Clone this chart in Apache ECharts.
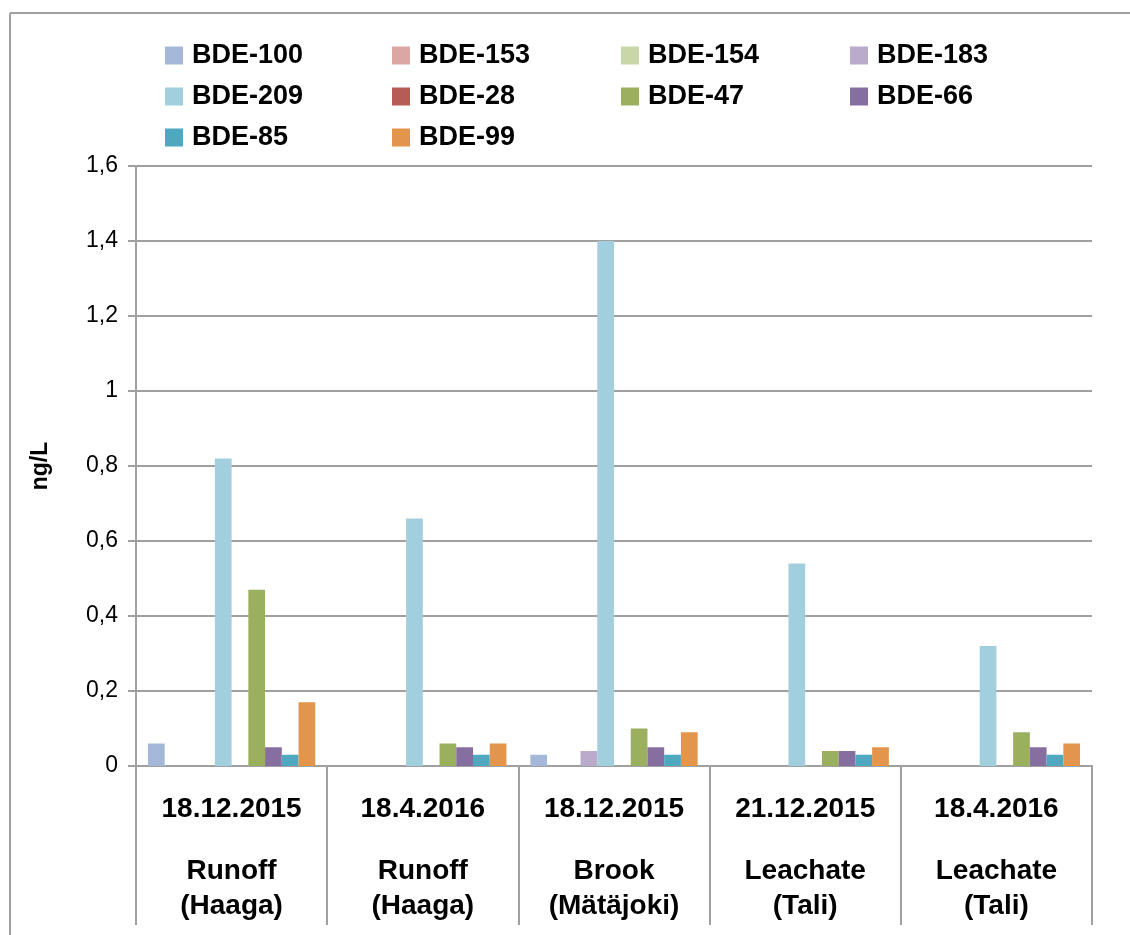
<!DOCTYPE html>
<html>
<head>
<meta charset="utf-8">
<script src="https://cdn.jsdelivr.net/npm/echarts@6/dist/echarts.min.js"></script>
<style>
html,body{margin:0;padding:0;background:#fff;}
#chart{width:1130px;height:935px;}
</style>
</head>
<body>
<div id="chart"></div>
<script>
// ---- data ----
var dates = ['18.12.2015', '18.4.2016', '18.12.2015', '21.12.2015', '18.4.2016'];
var siteNames = ['Runoff', 'Runoff', 'Brook', 'Leachate', 'Leachate'];
var sitePlaces = ['(Haaga)', '(Haaga)', '(Mätäjoki)', '(Tali)', '(Tali)'];
var yTicks = [0, 0.2, 0.4, 0.6, 0.8, 1, 1.2, 1.4, 1.6];

var seriesNames = ['BDE-100', 'BDE-153', 'BDE-154', 'BDE-183', 'BDE-209', 'BDE-28', 'BDE-47', 'BDE-66', 'BDE-85', 'BDE-99'];
var bde100 = [0.06, 0, 0.03, 0, 0];
var bde153 = [0, 0, 0, 0, 0];
var bde154 = [0, 0, 0, 0, 0];
var bde183 = [0, 0, 0.04, 0, 0];
var bde209 = [0.82, 0.66, 1.4, 0.54, 0.32];
var bde28  = [0, 0, 0, 0, 0];
var bde47  = [0.47, 0.06, 0.10, 0.04, 0.09];
var bde66  = [0.05, 0.05, 0.05, 0.04, 0.05];
var bde85  = [0.03, 0.03, 0.03, 0.03, 0.03];
var bde99  = [0.17, 0.06, 0.09, 0.05, 0.06];

var seriesValues = [bde100, bde153, bde154, bde183, bde209, bde28, bde47, bde66, bde85, bde99];
var colors = ['#A5B8DA', '#DBA6A4', '#C8D7A8', '#BAABCB', '#A2CFDE', '#B85A55', '#9BB05F', '#876EA0', '#4EA8BF', '#E3954B'];

// ---- build ----
var categories = dates.map(function (d, i) { return d + '\n' + siteNames[i] + '\n' + sitePlaces[i]; });
var FONT = '"Liberation Sans", Arial, sans-serif';
var GREY = '#A0A0A0';

var series = seriesNames.map(function (n, i) {
  return {
    name: n,
    type: 'bar',
    data: seriesValues[i],
    barGap: '0%',
    barCategoryGap: '12.5%',
    itemStyle: { color: colors[i] },
    emphasis: { disabled: true }
  };
});

var legendCols = [
  { left: 165, data: ['BDE-100', 'BDE-209', 'BDE-85'] },
  { left: 392, data: ['BDE-153', 'BDE-28', 'BDE-99'] },
  { left: 621, data: ['BDE-154', 'BDE-47'] },
  { left: 850, data: ['BDE-183', 'BDE-66'] }
];
var legends = legendCols.map(function (c) {
  return {
    orient: 'vertical',
    left: c.left,
    top: 42,
    padding: 0,
    itemWidth: 18,
    itemHeight: 18,
    itemGap: 14,
    icon: 'rect',
    selectedMode: false,
    data: c.data,
    textStyle: { fontFamily: FONT, fontWeight: 'bold', fontSize: 27, color: '#000', lineHeight: 18, padding: [4, 0, 0, 4] }
  };
});

var chart = echarts.init(document.getElementById('chart'), null, { renderer: 'canvas' });
chart.setOption({
  animation: false,
  backgroundColor: '#fff',
  color: colors,
  legend: legends,
  grid: { left: 136, right: 38, top: 166, bottom: 169, containLabel: false },
  graphic: [
    { type: 'line', shape: { x1: 10, y1: 13, x2: 1130, y2: 13 }, style: { stroke: GREY, lineWidth: 2 } },
    { type: 'line', shape: { x1: 10, y1: 13, x2: 10, y2: 935 }, style: { stroke: GREY, lineWidth: 2 } }
  ],
  xAxis: {
    type: 'category',
    data: categories,
    boundaryGap: true,
    axisLine: { show: true, lineStyle: { color: GREY, width: 2 } },
    axisTick: { show: true, interval: 0, length: 159, lineStyle: { color: GREY, width: 2 } },
    axisLabel: {
      interval: 0,
      margin: 9,
      formatter: function (v) {
        var p = v.split('\n');
        return '{d|' + p[0] + '}\n{e| }\n{n|' + p[1] + '}\n{n|' + p[2] + '}';
      },
      rich: {
        d: { fontFamily: FONT, fontWeight: 'bold', fontSize: 28, color: '#000', lineHeight: 68 },
        e: { fontSize: 8, lineHeight: 11 },
        n: { fontFamily: FONT, fontWeight: 'bold', fontSize: 28, color: '#000', lineHeight: 35 }
      }
    }
  },
  yAxis: {
    type: 'value',
    min: 0,
    max: 1.6,
    interval: 0.2,
    name: 'ng/L',
    nameLocation: 'middle',
    nameRotate: 90,
    nameGap: 84,
    nameTextStyle: { fontFamily: FONT, fontWeight: 'bold', fontSize: 23, color: '#000' },
    axisLine: { show: true, lineStyle: { color: GREY, width: 2 } },
    axisTick: { show: true, length: 8, lineStyle: { color: GREY, width: 2 } },
    splitLine: { show: true, lineStyle: { color: GREY, width: 2 } },
    axisLabel: {
      margin: 18,
      fontFamily: FONT,
      fontSize: 23,
      color: '#000',
      formatter: function (v) {
        var t = yTicks.filter(function (x) { return Math.abs(x - v) < 1e-9; });
        var val = t.length ? t[0] : v;
        return String(Math.round(val * 10) / 10).replace('.', ',');
      }
    }
  },
  series: series
});
</script>
</body>
</html>
